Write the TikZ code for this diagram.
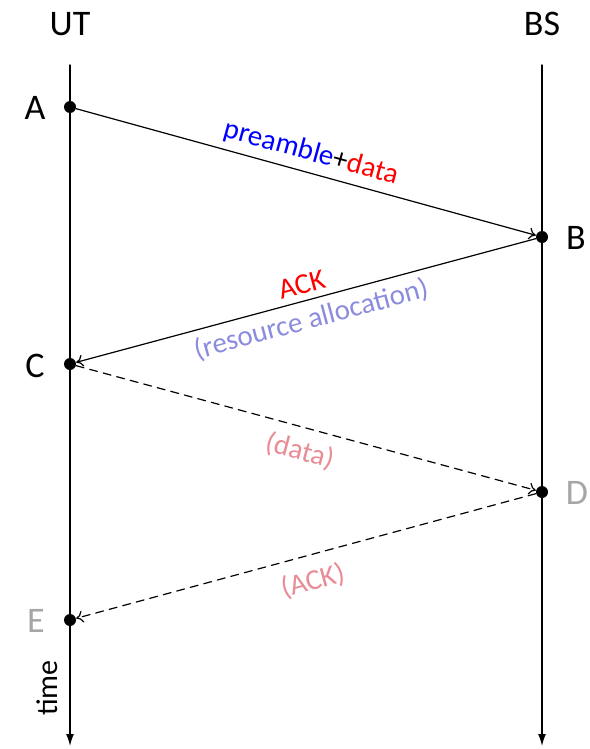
\documentclass[tikz,border=0pt]{standalone}
\usepackage{fontspec}
\setmainfont{Carlito}
\usepackage{xcolor}
\usetikzlibrary{arrows.meta}
\definecolor{lavend}{RGB}{140,140,222}
\definecolor{rosy}{RGB}{232,140,150}
\tikzset{
  evt/.style={circle, fill, inner sep=0pt, minimum size=6pt},
  ent/.style={font=\fontsize{18}{20}\selectfont},
  msg/.style={font=\fontsize{14.5}{16}\selectfont, sloped},
  life/.style={line width=0.7pt, -{Latex[length=6pt,width=4pt]}},
  sig/.style={line width=0.6pt, -{To[length=3.5pt,width=6pt]}},
  every picture/.style={line cap=round, line join=round}
}
\begin{document}
\begin{tikzpicture}[x=0.5pt, y=-0.5pt]
  \useasboundingbox (0,0) rectangle (589,749);

  % lifelines
  \node[ent] (ut) at (70,24) {UT};
  \node[ent] (bs) at (542,24) {BS};
  \coordinate (utTop) at (70,65);
  \coordinate (utEnd) at (70,746);
  \coordinate (bsTop) at (542,65);
  \coordinate (bsEnd) at (542,746);
  \draw[life] (utTop) -- (utEnd);
  \draw[life] (bsTop) -- (bsEnd);

  % events
  \node[evt] (a) at (70,107) {};
  \node[evt] (b) at (542,237) {};
  \node[evt] (c) at (70,364) {};
  \node[evt] (d) at (542,492) {};
  \node[evt] (e) at (70,620) {};
  \node[ent] (la) at (35,108) {A};
  \node[ent] (lb) at (576,238) {B};
  \node[ent] (lc) at (35,366) {C};
  \node[ent, black!35] (ld) at (577,493) {D};
  \node[ent, black!35] (le) at (36,621) {E};
  \node[font=\fontsize{15}{16}\selectfont, rotate=90] (time) at (47,688) {time};

  % messages
  \draw[sig] (a) -- node[msg, above] {\textcolor{blue}{preamble}+\textcolor{red}{data}} (b);
  \draw[sig] (b) -- node[msg, above, red] {ACK}
                    node[msg, below, lavend] {(resource allocation)} (c);
  \draw[sig, dash pattern=on 4pt off 3pt] (c) -- node[msg, below=2pt, rosy] {(data)} (d);
  \draw[sig, dash pattern=on 4pt off 3pt] (d) -- node[msg, below=3pt, rosy] {(ACK)} (e);
\end{tikzpicture}
\end{document}
